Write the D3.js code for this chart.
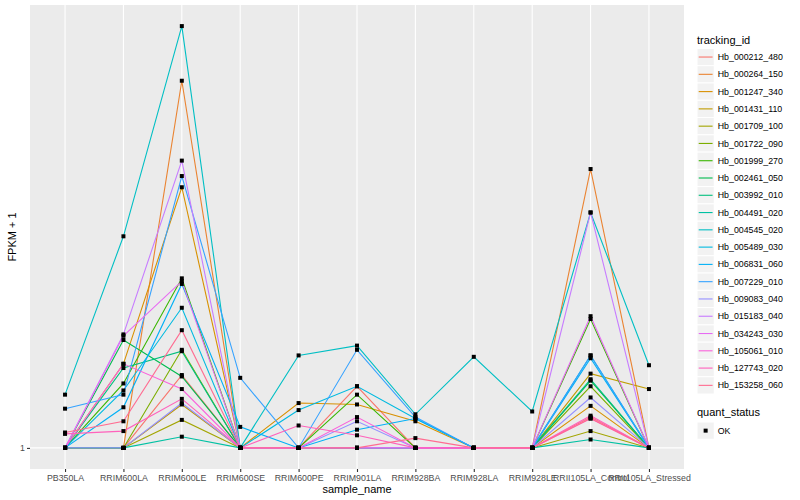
<!DOCTYPE html>
<html>
<head>
<meta charset="utf-8">
<script src="https://cdn.jsdelivr.net/npm/d3@7"></script>
<style>
  body { margin: 0; background: #fff; }
  text { font-family: "Liberation Sans", Arial, sans-serif; }
</style>
</head>
<body>
<div id="chart"></div>
<script>
// sample names along the x axis
const categories = ["PB350LA", "RRIM600LA", "RRIM600LE", "RRIM600SE", "RRIM600PE", "RRIM901LA",
  "RRIM928BA", "RRIM928LA", "RRIM928LE", "RRII105LA_Control", "RRII105LA_Stressed"];

const trackingIds = ["Hb_000212_480", "Hb_000264_150", "Hb_001247_340", "Hb_001431_110", "Hb_001709_100",
  "Hb_001722_090", "Hb_001999_270", "Hb_002461_050", "Hb_003992_010", "Hb_004491_020",
  "Hb_004545_020", "Hb_005489_030", "Hb_006831_060", "Hb_007229_010", "Hb_009083_040",
  "Hb_015183_040", "Hb_034243_030", "Hb_105061_010", "Hb_127743_020", "Hb_153258_060"];

// ggplot hue palette, 20 levels
const colors = ["#F8766D", "#EA8331", "#D89000", "#C09B00", "#A3A500", "#7CAE00", "#39B600", "#00BB4E",
  "#00BF7D", "#00C1A3", "#00BFC4", "#00BAE0", "#00B0F6", "#35A2FF", "#9590FF", "#C77CFF",
  "#E76BF3", "#FA62DB", "#FF62BC", "#FF6C91"];

// log2(FPKM + 1), one array per tracking_id, in category order
const s00 = [0, 0, 0.52, 0, 0, 0.44, 0, 0, 0, 0.22, 0];
const s01 = [0, 0, 2.62, 0, 0, 0, 0, 0, 0, 1.99, 0];
const s02 = [0, 0.60, 1.86, 0, 0.32, 0.31, 0.19, 0, 0, 0.30, 0];
const s03 = [0, 0, 0.31, 0, 0, 0, 0, 0, 0, 0.53, 0.42];
const s04 = [0, 0, 0.20, 0, 0, 0, 0, 0, 0, 0.12, 0];
const s05 = [0, 0, 0.70, 0, 0, 0, 0, 0, 0, 0.44, 0];
const s06 = [0, 0.46, 1.21, 0, 0, 0.38, 0, 0, 0, 0.92, 0];
const s07 = [0, 0.77, 0.51, 0, 0, 0, 0, 0, 0, 0.48, 0];
const s08 = [0, 0.57, 0.69, 0, 0, 0, 0, 0, 0, 0.49, 0];
const s09 = [0, 0, 0.08, 0, 0, 0, 0, 0, 0, 0.06, 0];
const s10 = [0.38, 1.51, 3.01, 0, 0.66, 0.73, 0.24, 0.65, 0.26, 1.68, 0.59];
const s11 = [0, 0.41, 1.00, 0, 0.27, 0.44, 0.21, 0, 0, 0.66, 0];
const s12 = [0, 0.29, 1.17, 0.15, 0, 0.13, 0.21, 0, 0, 0.64, 0];
const s13 = [0.28, 0.38, 1.94, 0.50, 0, 0.70, 0.22, 0, 0, 0.66, 0];
const s14 = [0, 0, 0.32, 0, 0, 0.19, 0, 0, 0, 0.36, 0];
const s15 = [0, 0.81, 2.05, 0, 0, 0, 0, 0, 0, 1.68, 0];
const s16 = [0, 0.80, 1.19, 0, 0, 0, 0, 0, 0, 0.94, 0];
const s17 = [0, 0.60, 0.42, 0, 0, 0.22, 0, 0, 0, 0.21, 0];
const s18 = [0.10, 0.12, 0.35, 0, 0.16, 0.09, 0, 0, 0, 0.23, 0];
const s19 = [0.11, 0.19, 0.84, 0, 0, 0, 0.07, 0, 0, 0.21, 0];
const seriesValues = [s00, s01, s02, s03, s04, s05, s06, s07, s08, s09,
  s10, s11, s12, s13, s14, s15, s16, s17, s18, s19];

const yTickValues = [0];
const yTickLabels = ["1"];
const quantStatus = ["OK"];

const width = 800, height = 500;
const panel = { left: 30, right: 684, top: 5, bottom: 469 };

const svg = d3.select("#chart").append("svg")
  .attr("width", width)
  .attr("height", height);

svg.append("rect").attr("width", width).attr("height", height).attr("fill", "#fff");

const x = d3.scalePoint()
  .domain(categories)
  .range([panel.left, panel.right])
  .padding(0.6);

// ggplot style 5% expansion
const yMax = d3.max(seriesValues, s => d3.max(s));
const y = d3.scaleLinear()
  .domain([0 - yMax * 0.05, yMax * 1.05])
  .range([panel.bottom, panel.top]);

// panel background and grid
svg.append("rect")
  .attr("x", panel.left).attr("y", panel.top)
  .attr("width", panel.right - panel.left).attr("height", panel.bottom - panel.top)
  .attr("fill", "#EBEBEB");

svg.append("g").selectAll("line")
  .data(categories)
  .enter().append("line")
  .attr("x1", d => x(d)).attr("x2", d => x(d))
  .attr("y1", panel.top).attr("y2", panel.bottom)
  .attr("stroke", "#fff").attr("stroke-width", 1.1);

svg.append("g").selectAll("line")
  .data(yTickValues)
  .enter().append("line")
  .attr("x1", panel.left).attr("x2", panel.right)
  .attr("y1", d => y(d)).attr("y2", d => y(d))
  .attr("stroke", "#fff").attr("stroke-width", 1.1);

// axes
const xAxis = svg.append("g")
  .attr("transform", `translate(0, ${panel.bottom})`)
  .call(d3.axisBottom(x).tickSize(3).tickPadding(3));

const yAxis = svg.append("g")
  .attr("transform", `translate(${panel.left}, 0)`)
  .call(d3.axisLeft(y).tickValues(yTickValues).tickFormat((d, i) => yTickLabels[i]).tickSize(3).tickPadding(2));

[xAxis, yAxis].forEach(a => {
  a.select(".domain").remove();
  a.selectAll(".tick line").attr("stroke", "#333").attr("stroke-width", 1.1);
  a.selectAll(".tick text")
    .attr("fill", "#4D4D4D")
    .style("font-size", "8.8px")
    .style("font-family", "'Liberation Sans', Arial, sans-serif");
});

svg.append("text")
  .attr("x", (panel.left + panel.right) / 2)
  .attr("y", 493)
  .attr("text-anchor", "middle")
  .style("font-size", "11px")
  .text("sample_name");

svg.append("text")
  .attr("transform", `translate(16, ${(panel.top + panel.bottom) / 2}) rotate(-90)`)
  .attr("text-anchor", "middle")
  .style("font-size", "11px")
  .text("FPKM + 1");

// lines, one per tracking_id
const line = d3.line()
  .x((d, i) => x(categories[i]))
  .y(d => y(d));

svg.append("g").selectAll("path")
  .data(seriesValues)
  .enter().append("path")
  .attr("d", d => line(d))
  .attr("fill", "none")
  .attr("stroke", (d, i) => colors[i])
  .attr("stroke-width", 1.1);

// points (all quant_status OK)
const points = [];
seriesValues.forEach(s => s.forEach((v, i) => points.push({ cat: categories[i], v: v })));

svg.append("g").selectAll("rect")
  .data(points)
  .enter().append("rect")
  .attr("x", d => x(d.cat) - 2)
  .attr("y", d => y(d.v) - 2)
  .attr("width", 4).attr("height", 4)
  .attr("fill", "#000");

// legend: tracking_id
const key = 17.28;
const legend = svg.append("g").attr("transform", "translate(697, 0)");

legend.append("text")
  .attr("x", 0).attr("y", 44)
  .style("font-size", "11px")
  .text("tracking_id");

const items = legend.selectAll("g.item")
  .data(trackingIds)
  .enter().append("g")
  .attr("class", "item")
  .attr("transform", (d, i) => `translate(0, ${48.4 + i * key})`);

items.append("rect")
  .attr("width", key).attr("height", key)
  .attr("fill", "#F2F2F2").attr("stroke", "#fff");

items.append("line")
  .attr("x1", 1.7).attr("x2", key - 1.7)
  .attr("y1", key / 2).attr("y2", key / 2)
  .attr("stroke", (d, i) => colors[i])
  .attr("stroke-width", 1.1);

items.append("text")
  .attr("x", key + 3.5).attr("y", key / 2)
  .attr("dy", "0.35em")
  .style("font-size", "8.8px")
  .text(d => d);

// legend: quant_status
legend.append("text")
  .attr("x", 0).attr("y", 416)
  .style("font-size", "11px")
  .text("quant_status");

const qItems = legend.selectAll("g.q")
  .data(quantStatus)
  .enter().append("g")
  .attr("class", "q")
  .attr("transform", (d, i) => `translate(0, ${422 + i * key})`);

qItems.append("rect")
  .attr("width", key).attr("height", key)
  .attr("fill", "#F2F2F2").attr("stroke", "#fff");

qItems.append("rect")
  .attr("x", key / 2 - 2).attr("y", key / 2 - 2)
  .attr("width", 4).attr("height", 4)
  .attr("fill", "#000");

qItems.append("text")
  .attr("x", key + 3.5).attr("y", key / 2)
  .attr("dy", "0.35em")
  .style("font-size", "8.8px")
  .text(d => d);
</script>
</body>
</html>
